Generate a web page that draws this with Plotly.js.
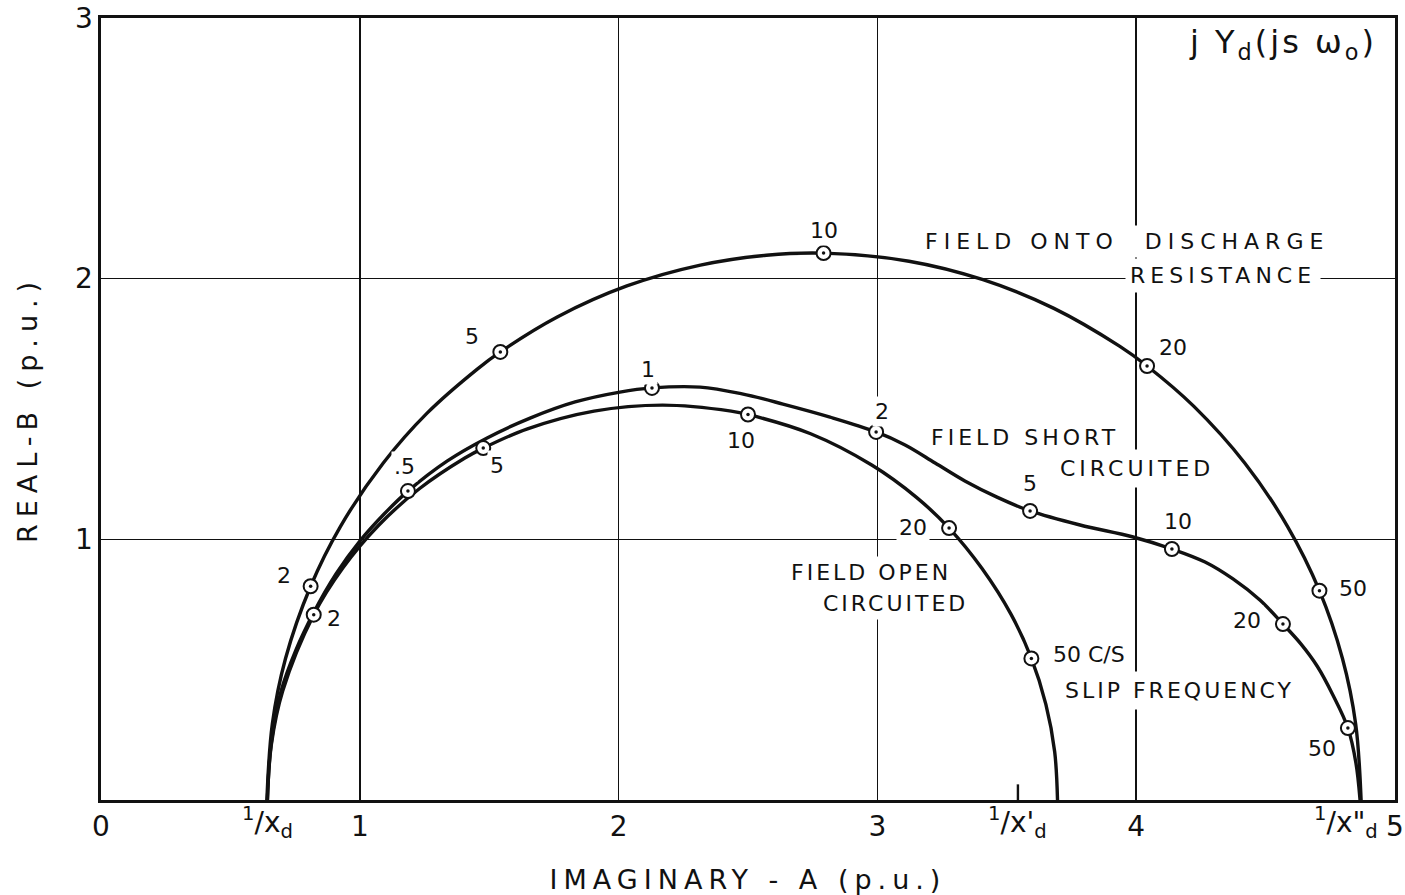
<!DOCTYPE html>
<html>
<head>
<meta charset="utf-8">
<script src="https://cdn.plot.ly/plotly-3.0.1.min.js"></script>
<style>
  html, body { margin: 0; padding: 0; background: #fff; }
  #chart { width: 1405px; height: 895px; }
</style>
</head>
<body>
<div id="chart"></div>
<script>
// Admittance locus jY_d(js·ω0) of a synchronous machine, per-unit,
// for three field-winding conditions, with slip frequency marked in c/s.

// Field onto discharge resistance
const dischargeX = [0.641, 0.662, 0.713, 0.810, 0.925, 1.090, 1.260, 1.454, 1.543, 1.763, 2.032, 2.316, 2.571, 2.792, 3.122, 3.408, 3.682, 3.937, 4.042, 4.223, 4.420, 4.585, 4.708, 4.797, 4.848, 4.869];
const dischargeY = [0.000, 0.292, 0.543, 0.820, 1.049, 1.292, 1.484, 1.653, 1.719, 1.853, 1.972, 2.052, 2.090, 2.098, 2.067, 1.996, 1.886, 1.740, 1.665, 1.510, 1.292, 1.049, 0.803, 0.543, 0.292, 0.000];
const dischargePtsX = [0.810, 1.543, 2.792, 4.042, 4.708];
const dischargePtsY = [0.820, 1.719, 2.098, 1.665, 0.803];
const dischargePtsLbl = ['2', '5', '10', '20', '50'];

// Field short circuited
const shortX = [0.643, 0.657, 0.696, 0.753, 0.823, 0.908, 1.001, 1.094, 1.186, 1.337, 1.492, 1.658, 1.832, 2.005, 2.129, 2.315, 2.477, 2.635, 2.817, 2.995, 3.107, 3.223, 3.338, 3.462, 3.590, 3.783, 3.988, 4.138, 4.266, 4.374, 4.478, 4.567, 4.637, 4.699, 4.760, 4.818, 4.849, 4.865];
const shortY = [0.000, 0.211, 0.418, 0.575, 0.721, 0.867, 0.994, 1.097, 1.185, 1.300, 1.389, 1.465, 1.527, 1.565, 1.581, 1.584, 1.558, 1.519, 1.469, 1.412, 1.362, 1.293, 1.224, 1.162, 1.109, 1.055, 1.009, 0.963, 0.913, 0.848, 0.767, 0.675, 0.598, 0.514, 0.403, 0.276, 0.142, 0.000];
const shortPtsX = [1.186, 2.129, 2.995, 3.590, 4.138, 4.567, 4.818];
const shortPtsY = [1.185, 1.581, 1.412, 1.109, 0.963, 0.675, 0.276];
const shortPtsLbl = ['.5', '1', '2', '5', '10', '20', '50'];

// Field open circuited
const openX = [0.643, 0.658, 0.702, 0.822, 0.935, 1.072, 1.230, 1.406, 1.477, 1.648, 1.905, 2.170, 2.435, 2.500, 2.742, 2.978, 3.151, 3.277, 3.405, 3.517, 3.595, 3.651, 3.685, 3.696];
const openY = [0.000, 0.211, 0.418, 0.711, 0.891, 1.053, 1.194, 1.312, 1.350, 1.424, 1.492, 1.515, 1.492, 1.479, 1.405, 1.285, 1.161, 1.043, 0.887, 0.711, 0.543, 0.367, 0.185, 0.000];
const openPtsX = [0.822, 1.477, 2.500, 3.277, 3.595];
const openPtsY = [0.711, 1.350, 1.479, 1.043, 0.543];
const openPtsLbl = ['2', '5', '10', '20', '50 C/S'];

// Axis ticks
const xTickVals = [0, 1, 2, 3, 4, 5];
const xTickText = ['0', '1', '2', '3', '4', '5'];
const yTickVals = [1, 2, 3];
const yTickText = ['1', '2', '3'];

// Characteristic admittances 1/x_d, 1/x'_d, 1/x''_d on the imaginary axis
const reactanceX = [0.645, 3.543, 4.81];
const reactanceLbl = ['<sup>1</sup>/x<sub>d</sub>', "<sup>1</sup>/x'<sub>d</sub>", '<sup>1</sup>/x"<sub>d</sub>'];

// Label offsets (pixels) around each marked point: [xshift, yshift, xanchor]
const dischargeOff = [[-27, 11], [-28, 15], [0, 23], [26, 18], [34, 2]];
const shortOff = [[-3, 25], [-4, 18], [6, 20], [0, 27], [6, 27], [-36, 4], [-26, -20]];
const openOff = [[20, -4], [14, -17], [-7, -26], [-36, 1], [19, 4, 'left']];

const FONT = 'DejaVu Sans, Verdana, sans-serif';
const INK = '#111';

function curve(x, y) {
  return {
    x, y, type: 'scatter', mode: 'lines',
    line: { color: INK, width: 3.4, shape: 'spline', smoothing: 1 },
    hoverinfo: 'skip', showlegend: false
  };
}
function rings(x, y) {
  return {
    x, y, type: 'scatter', mode: 'markers',
    marker: { symbol: 'circle', size: 14, color: '#fff', line: { color: INK, width: 2 } },
    hoverinfo: 'skip', showlegend: false
  };
}
function dots(x, y) {
  return {
    x, y, type: 'scatter', mode: 'markers',
    marker: { symbol: 'circle', size: 3.5, color: INK, line: { width: 0 } },
    hoverinfo: 'skip', showlegend: false
  };
}

const data = [
  curve(dischargeX, dischargeY),
  curve(shortX, shortY),
  curve(openX, openY),
  rings(dischargePtsX, dischargePtsY), dots(dischargePtsX, dischargePtsY),
  rings(shortPtsX, shortPtsY), dots(shortPtsX, shortPtsY),
  rings(openPtsX, openPtsY), dots(openPtsX, openPtsY)
];

const annotations = [];
function pointLabels(xs, ys, lbls, offs) {
  xs.forEach((x, i) => {
    const o = offs[i];
    annotations.push({
      x, y: ys[i], xref: 'x', yref: 'y', text: lbls[i], showarrow: false,
      xshift: o[0], yshift: o[1], xanchor: o[2] || 'center', yanchor: 'middle',
      font: { family: FONT, size: 22, color: INK },
      bgcolor: '#fff', borderpad: 2
    });
  });
}
pointLabels(dischargePtsX, dischargePtsY, dischargePtsLbl, dischargeOff);
pointLabels(shortPtsX, shortPtsY, shortPtsLbl, shortOff);
pointLabels(openPtsX, openPtsY, openPtsLbl, openOff);

function spaced(t, s) { return '<span style="letter-spacing:' + s + 'px">' + t + '</span>'; }
function caption(text, x, y, spacing, pad) {
  annotations.push({
    x, y, xref: 'x', yref: 'y', text: spaced(text, spacing), showarrow: false,
    xanchor: 'center', yanchor: 'middle',
    font: { family: FONT, size: 22, color: INK },
    bgcolor: '#fff', borderpad: pad
  });
}
caption('FIELD ONTO&nbsp;&nbsp;DISCHARGE', 3.964, 2.144, 6, 3);
caption('RESISTANCE', 4.335, 2.014, 5, 4);
caption('FIELD SHORT', 3.570, 1.392, 4, 3);
caption('CIRCUITED', 4.003, 1.273, 4, 6);
caption('FIELD OPEN', 2.975, 0.871, 3, 3);
caption('CIRCUITED', 3.068, 0.752, 3, 3);
caption('SLIP FREQUENCY', 4.166, 0.422, 3, 6);

// Locus name
annotations.push({
  x: 4.567, y: 2.899, xref: 'x', yref: 'y', showarrow: false,
  text: spaced('j Y<sub>d</sub>(js ω<sub>o</sub>)', 3),
  font: { family: FONT, size: 32, color: INK }, xanchor: 'center', yanchor: 'middle'
});

// Reactance labels under the axis
reactanceX.forEach((x, i) => {
  annotations.push({
    x, y: 0, xref: 'x', yref: 'paper', showarrow: false, text: reactanceLbl[i],
    xanchor: 'center', yanchor: 'top', yshift: 0,
    font: { family: FONT, size: 28, color: INK }
  });
});

const layout = {
  width: 1405, height: 895,
  margin: { l: 101, r: 10, t: 18, b: 95 },
  paper_bgcolor: '#fff', plot_bgcolor: '#fff',
  showlegend: false,
  xaxis: {
    range: [0, 5], tickvals: xTickVals, ticktext: xTickText,
    showgrid: true, gridcolor: INK, gridwidth: 1.6, zeroline: false,
    showline: true, mirror: true, linecolor: INK, linewidth: 2.6,
    ticks: '', ticklabelstandoff: 0,
    tickfont: { family: FONT, size: 28, color: INK },
    title: { text: spaced('IMAGINARY - A (p.u.)', 6), font: { family: FONT, size: 27, color: INK }, standoff: 30 }
  },
  yaxis: {
    range: [0, 3], tickvals: yTickVals, ticktext: yTickText,
    showgrid: true, gridcolor: INK, gridwidth: 1.6, zeroline: false,
    showline: true, mirror: true, linecolor: INK, linewidth: 2.6,
    ticks: '', ticklabelstandoff: 0,
    tickfont: { family: FONT, size: 28, color: INK },
    title: { text: spaced('REAL-B (p.u.)', 7), font: { family: FONT, size: 27, color: INK }, standoff: 30 }
  },
  annotations,
  shapes: [{
    type: 'line', xref: 'x', yref: 'paper',
    x0: reactanceX[1], x1: reactanceX[1], y0: 0, y1: 0.02,
    line: { color: INK, width: 2.4 }
  }]
};

Plotly.newPlot('chart', data, layout, { staticPlot: true, displayModeBar: false });
</script>
</body>
</html>
